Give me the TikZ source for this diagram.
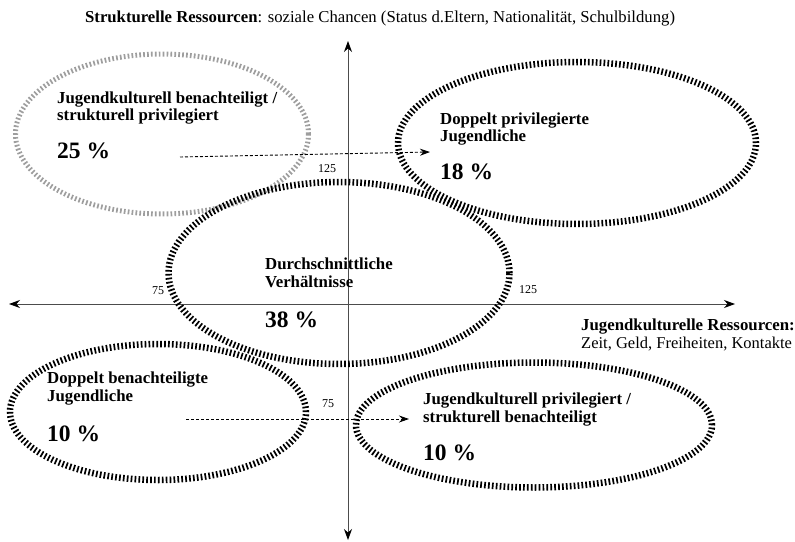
\documentclass[tikz,border=0pt]{standalone}
\usepackage{fontspec}
\setmainfont{Liberation Serif}
\usetikzlibrary{shapes.geometric,arrows.meta}
\begin{document}
\begin{tikzpicture}[x=1pt,y=-1pt,
  zone/.style={draw=black,ellipse,line width=6.5pt,dash pattern=on 1.7pt off 2.2pt,inner sep=0pt},
  greyzone/.style={zone,draw=black!38,line width=5pt},
  axis/.style={draw=black!70,line width=0.8pt,-{Stealth[length=11pt,width=8pt,black]}},
  movearrow/.style={draw=black,line width=0.9pt,dash pattern=on 3pt off 2pt,-{Stealth[length=10pt,width=7pt]}},
  lab/.style={anchor=base west,inner sep=0pt,font=\fontsize{16.8}{19}\selectfont\bfseries},
  pct/.style={anchor=base west,inner sep=0pt,font=\fontsize{23.5}{26}\selectfont\bfseries},
  tick/.style={inner sep=0pt,font=\fontsize{12}{14}\selectfont},
  txt/.style={anchor=base west,inner sep=0pt,font=\fontsize{16.5}{19}\selectfont}]
\useasboundingbox (0,0) rectangle (795,541);
% axes
\coordinate (xl) at (9,304);
\coordinate (xr) at (735,304);
\coordinate (yt) at (348,41);
\coordinate (yb) at (348,540);
\draw[axis] (348,304) -- (xr);
\draw[axis] (348,304) -- (xl);
\draw[axis] (348,304) -- (yt);
\draw[axis] (348,304) -- (yb);
% ellipses
\node[greyzone,minimum width=293pt,minimum height=160pt] (e1) at (162,134) {};
\node[zone,minimum width=358pt,minimum height=162pt] (e2) at (577,143) {};
\node[zone,minimum width=341pt,minimum height=182pt] (e3) at (339,273) {};
\node[zone,minimum width=296pt,minimum height=136pt] (e4) at (158,412) {};
\node[zone,minimum width=356pt,minimum height=125pt] (e5) at (534,425) {};
% title
\node[anchor=base west,inner sep=0pt,font=\fontsize{16.7}{19}\selectfont] (title) at (85,22) {\textbf{Strukturelle Ressourcen}: soziale Chancen (Status d.Eltern, Nationalität, Schulbildung)};
% labels
\node[lab] (a1) at (57,103) {Jugendkulturell benachteiligt /};
\node[lab] (a2) at (57,120) {strukturell privilegiert};
\node[pct] (a3) at (57,158) {25 \%};
\node[lab] (b1) at (440,124) {Doppelt privilegierte};
\node[lab] (b2) at (440,141) {Jugendliche};
\node[pct] (b3) at (440,179) {18 \%};
\node[lab] (c1) at (265,269) {Durchschnittliche};
\node[lab] (c2) at (265,287) {Verhältnisse};
\node[pct] (c3) at (265,327) {38 \%};
\node[lab] (d1) at (47,383) {Doppelt benachteiligte};
\node[lab] (d2) at (47,401) {Jugendliche};
\node[pct] (d3) at (47,441) {10 \%};
\node[lab] (f1) at (423,404) {Jugendkulturell privilegiert /};
\node[lab] (f2) at (423,422) {strukturell benachteiligt};
\node[pct] (f3) at (423,460) {10 \%};
\node[lab] (r1) at (581,330) {Jugendkulturelle Ressourcen:};
\node[txt] (r2) at (581,348) {Zeit, Geld, Freiheiten, Kontakte};
% ticks
\node[tick] (t1) at (327,169) {125};
\node[tick] (t2) at (158,291) {75};
\node[tick] (t3) at (528,290) {125};
\node[tick] (t4) at (328,404) {75};
% shift arrows
\coordinate (s1a) at (180,157);
\coordinate (s1b) at (430,152);
\coordinate (s2a) at (186,419);
\coordinate (s2b) at (409,419);
\draw[movearrow] (s1a) -- (s1b);
\draw[movearrow] (s2a) -- (s2b);
\end{tikzpicture}
\end{document}
